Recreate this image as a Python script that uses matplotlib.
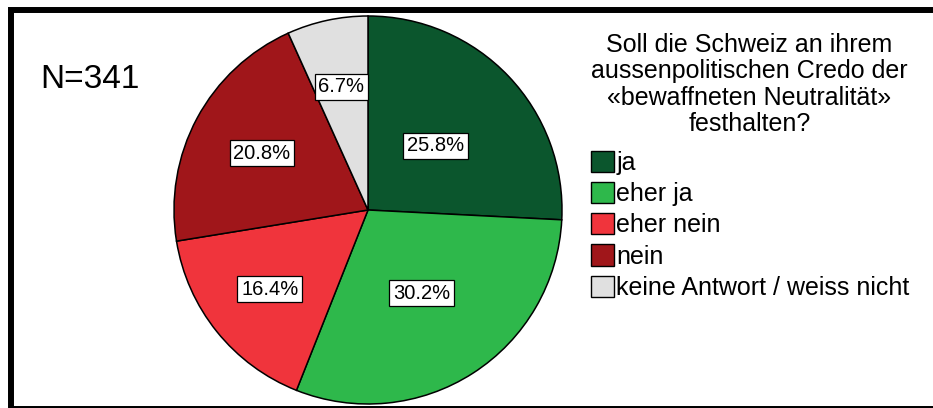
import matplotlib.pyplot as plt
import matplotlib
import numpy as np
from matplotlib.patches import Rectangle, Patch

matplotlib.rcParams['font.family'] = ['Liberation Sans', 'DejaVu Sans']

categories = ['ja', 'eher ja', 'eher nein', 'nein', 'keine Antwort / weiss nicht']
counts = [88, 103, 56, 71, 23]
colors = ['#0B562D', '#2EB84B', '#F0343C', '#A0161A', '#E0E0E0']
label_dist = [0.48, 0.51, 0.65, 0.62, 0.65]
question = "Soll die Schweiz an ihrem\naussenpolitischen Credo der\n\u00abbewaffneten Neutralit\u00e4t\u00bb\nfesthalten?"

fig = plt.figure(figsize=(9.33, 4.08), dpi=100)
ax = fig.add_axes([174 / 933, 4 / 408, 388 / 933, 388 / 408])

wedges, texts, autotexts = ax.pie(
    counts, colors=colors, startangle=90, counterclock=False,
    autopct='%.1f%%', pctdistance=0.6, radius=1,
    wedgeprops=dict(edgecolor='black', linewidth=1.1),
    textprops=dict(fontsize=14.5))
ax.set_xlim(-1, 1)
ax.set_ylim(-1, 1)
ax.set_aspect('equal')
ax.axis('off')

# move percent boxes to individual distances
for w, t, d in zip(wedges, autotexts, label_dist):
    ang = np.deg2rad((w.theta1 + w.theta2) / 2)
    t.set_position((d * np.cos(ang), d * np.sin(ang)))
    t.set_bbox(dict(boxstyle='square,pad=0.18', fc='white', ec='black', lw=0.9))

fig.text(40 / 933, 1 - 80 / 408, 'N=341', fontsize=24, va='center', ha='left')

handles = [Patch(facecolor=c, edgecolor='black', linewidth=1.0) for c in colors]
leg = fig.legend(handles, categories, title=question, loc='upper left',
                 bbox_to_anchor=(591 / 933, 1 - 33 / 408), frameon=False,
                 fontsize=18, title_fontsize=18, handlelength=0.92,
                 handleheight=0.92, handletextpad=0.1, labelspacing=0.28,
                 borderpad=0, borderaxespad=0)
leg.get_title().set_multialignment('center')
leg.get_title().set_linespacing(1.13)
leg._legend_box.align = 'left'
leg._legend_box.sep = 10.5

fig.add_artist(Rectangle((11 / 933, -0.002), 1.02, 0.9787, transform=fig.transFigure,
                         fill=False, edgecolor='black', linewidth=4.3, clip_on=False))

fig.savefig('out.png', dpi=100)
